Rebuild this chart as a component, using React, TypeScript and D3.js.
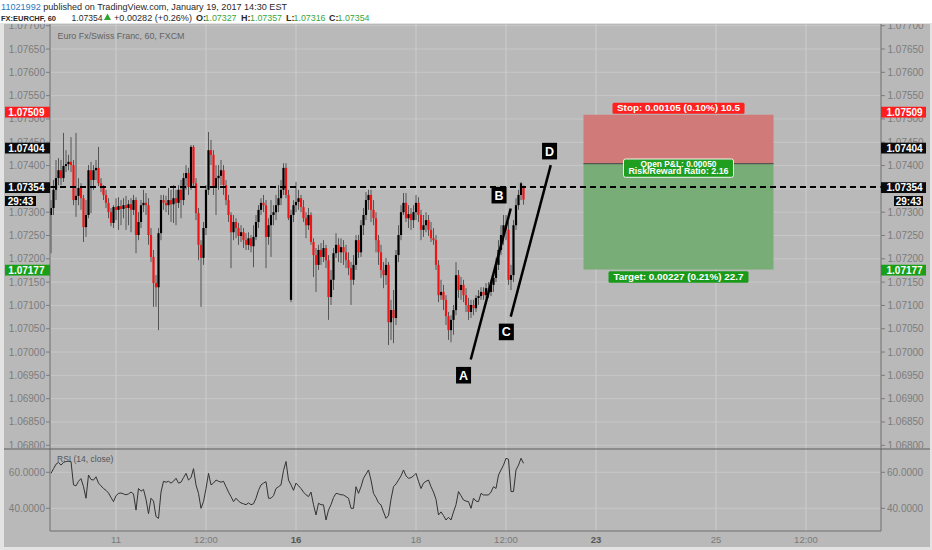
import * as d3 from "d3";

// hourly EUR/CHF bars (bar index 0 = first visible bar)
const opens = [
  1.07294, 1.07309, 1.07348, 1.07373, 1.0739, 1.07373, 1.07399, 1.07403, 1.07408, 1.07401,
  1.07326, 1.07335, 1.07352, 1.0733, 1.07268, 1.07294, 1.0739, 1.07369, 1.0739, 1.07395,
  1.07362, 1.07352, 1.07337, 1.0732, 1.073, 1.07277, 1.07311, 1.07305, 1.07313, 1.07307,
  1.07315, 1.07309, 1.07317, 1.07305, 1.07326, 1.07251, 1.07279, 1.07315, 1.0732, 1.07315,
  1.07251, 1.07204, 1.07148, 1.07139, 1.07255, 1.07326, 1.0732, 1.07315, 1.07326, 1.07317,
  1.0733, 1.0732, 1.07348, 1.07326, 1.07373, 1.07384, 1.07354, 1.0744, 1.07362, 1.07298,
  1.0723, 1.07202, 1.07266, 1.07348, 1.07433, 1.07423, 1.07352, 1.07373, 1.07378, 1.0739,
  1.07358, 1.07326, 1.07294, 1.07257, 1.07279, 1.07266, 1.07249, 1.07257, 1.0724, 1.0723,
  1.07244, 1.07227, 1.07247, 1.07279, 1.07305, 1.0732, 1.07315, 1.07247, 1.07272, 1.07294,
  1.073, 1.07315, 1.0733, 1.07348, 1.07395, 1.07337, 1.07112, 1.07294, 1.07315, 1.07322,
  1.0733, 1.07311, 1.07287, 1.07272, 1.07294, 1.07236, 1.07208, 1.07187, 1.07219, 1.07204,
  1.07223, 1.07197, 1.07118, 1.07155, 1.07212, 1.0723, 1.07214, 1.07225, 1.07214, 1.07197,
  1.0718, 1.07155, 1.07187, 1.0724, 1.07214, 1.07272, 1.07294, 1.07326, 1.07337, 1.07305,
  1.07287, 1.0724, 1.07214, 1.07176, 1.07165, 1.07187, 1.07064, 1.0709, 1.07073, 1.07208,
  1.07251, 1.073, 1.0732, 1.07287, 1.07296, 1.07283, 1.073, 1.0732, 1.07294, 1.07262,
  1.07272, 1.07283, 1.07262, 1.07244, 1.0724, 1.07187, 1.07122, 1.07129, 1.07112, 1.07077,
  1.07047, 1.07069, 1.0709, 1.07165, 1.07133, 1.07144, 1.07122, 1.07101, 1.07086, 1.07101,
  1.07094, 1.07116, 1.0712, 1.07129, 1.07122, 1.07137, 1.07129, 1.07144, 1.07159, 1.07187,
  1.07219, 1.07251, 1.07272, 1.07262, 1.07155, 1.07165, 1.07272, 1.07315, 1.07337, 1.07327,
];
const highs = [
  1.07326, 1.07369, 1.07412, 1.07416, 1.07412, 1.0747, 1.07433, 1.07423, 1.07461, 1.07412,
  1.0747, 1.07373, 1.07362, 1.07337, 1.07326, 1.07401, 1.07408, 1.07401, 1.07412, 1.0744,
  1.07373, 1.07358, 1.07348, 1.0733, 1.07309, 1.07315, 1.0733, 1.07332, 1.07326, 1.0733,
  1.07335, 1.07326, 1.0733, 1.07337, 1.07332, 1.073, 1.07326, 1.07348, 1.07341, 1.0733,
  1.07266, 1.07219, 1.07165, 1.07266, 1.07337, 1.07337, 1.07335, 1.07352, 1.07348, 1.07358,
  1.07348, 1.07358, 1.07369, 1.07384, 1.07401, 1.07395, 1.07444, 1.07444, 1.07373, 1.07309,
  1.0724, 1.07279, 1.07358, 1.07472, 1.07455, 1.07433, 1.07401, 1.07401, 1.07412, 1.07401,
  1.07369, 1.07337, 1.073, 1.07294, 1.07287, 1.07277, 1.07272, 1.07266, 1.07255, 1.07257,
  1.07251, 1.07272, 1.07294, 1.07315, 1.0733, 1.07337, 1.07326, 1.07287, 1.07326, 1.07315,
  1.07337, 1.07358, 1.07369, 1.07405, 1.07405, 1.07348, 1.07305, 1.07326, 1.07365, 1.07348,
  1.07337, 1.07326, 1.073, 1.07309, 1.073, 1.07244, 1.07223, 1.0723, 1.07234, 1.0724,
  1.0723, 1.07208, 1.07176, 1.07223, 1.07255, 1.07244, 1.07244, 1.0724, 1.0723, 1.07214,
  1.07193, 1.07208, 1.07251, 1.07251, 1.07283, 1.07309, 1.07343, 1.07348, 1.07348, 1.07326,
  1.073, 1.07251, 1.0723, 1.07193, 1.07202, 1.07193, 1.07112, 1.07133, 1.07219, 1.07272,
  1.07315, 1.07341, 1.07341, 1.07315, 1.07309, 1.07315, 1.07337, 1.07332, 1.07305, 1.07294,
  1.073, 1.07294, 1.07279, 1.07266, 1.07251, 1.07197, 1.07155, 1.07144, 1.07122, 1.07086,
  1.07079, 1.07101, 1.07193, 1.07176, 1.07161, 1.07155, 1.07137, 1.07116, 1.07112, 1.07112,
  1.07122, 1.07133, 1.07139, 1.07139, 1.07148, 1.0715, 1.07155, 1.07176, 1.07202, 1.0724,
  1.07272, 1.07294, 1.07294, 1.07279, 1.07187, 1.07283, 1.0733, 1.07348, 1.07365, 1.07357,
];
const lows = [
  1.07212, 1.07294, 1.07326, 1.07358, 1.07358, 1.07365, 1.07386, 1.0739, 1.07386, 1.07315,
  1.0729, 1.07315, 1.07305, 1.07236, 1.07247, 1.07287, 1.07298, 1.07348, 1.07369, 1.07356,
  1.07343, 1.07326, 1.07309, 1.07287, 1.0727, 1.07266, 1.07283, 1.07262, 1.07272, 1.07287,
  1.07262, 1.07272, 1.07257, 1.07294, 1.07212, 1.0724, 1.07266, 1.073, 1.07294, 1.0723,
  1.07193, 1.07097, 1.07097, 1.07047, 1.0724, 1.07305, 1.073, 1.07294, 1.07279, 1.07277,
  1.07272, 1.07309, 1.07287, 1.07315, 1.07348, 1.07337, 1.07348, 1.07352, 1.07283, 1.07197,
  1.07097, 1.07187, 1.07251, 1.07337, 1.07401, 1.07337, 1.07294, 1.07348, 1.07358, 1.07337,
  1.07315, 1.07279, 1.0718, 1.0724, 1.07244, 1.0723, 1.07236, 1.07223, 1.07219, 1.07219,
  1.07214, 1.07182, 1.0724, 1.07266, 1.07294, 1.073, 1.0718, 1.0723, 1.07204, 1.07272,
  1.07283, 1.073, 1.07315, 1.07337, 1.0733, 1.07283, 1.07107, 1.07279, 1.073, 1.07305,
  1.073, 1.07279, 1.07244, 1.07262, 1.0723, 1.07161, 1.07129, 1.07176, 1.07187, 1.07193,
  1.0718, 1.07069, 1.07101, 1.07133, 1.07202, 1.07193, 1.07191, 1.07187, 1.0718, 1.07165,
  1.07101, 1.07144, 1.07176, 1.07202, 1.07204, 1.07251, 1.07283, 1.07305, 1.07279, 1.07272,
  1.07214, 1.07187, 1.07159, 1.07137, 1.07144, 1.07015, 1.07026, 1.07019, 1.07058, 1.07193,
  1.0724, 1.07294, 1.07279, 1.07266, 1.07262, 1.07266, 1.07283, 1.07279, 1.0724, 1.07247,
  1.07257, 1.07249, 1.07236, 1.0723, 1.07176, 1.07107, 1.07112, 1.0709, 1.07058, 1.07026,
  1.07021, 1.07037, 1.07079, 1.07116, 1.07112, 1.07107, 1.07086, 1.07069, 1.07073, 1.07079,
  1.07086, 1.07101, 1.07112, 1.07112, 1.07116, 1.07116, 1.0712, 1.07129, 1.0715, 1.07176,
  1.07208, 1.0723, 1.0724, 1.07144, 1.07133, 1.0715, 1.07262, 1.07305, 1.07326, 1.07316,
];
const closes = [
  1.07309, 1.07348, 1.07373, 1.0739, 1.07373, 1.07399, 1.07403, 1.07408, 1.07401, 1.07326,
  1.07335, 1.07352, 1.0733, 1.07268, 1.07294, 1.0739, 1.07369, 1.0739, 1.07395, 1.07362,
  1.07352, 1.07337, 1.0732, 1.073, 1.07277, 1.07311, 1.07305, 1.07313, 1.07307, 1.07315,
  1.07309, 1.07317, 1.07305, 1.07326, 1.07251, 1.07279, 1.07315, 1.0732, 1.07315, 1.07251,
  1.07204, 1.07148, 1.07139, 1.07255, 1.07326, 1.0732, 1.07315, 1.07326, 1.07317, 1.0733,
  1.0732, 1.07348, 1.07326, 1.07373, 1.07384, 1.07354, 1.0744, 1.07362, 1.07298, 1.0723,
  1.07202, 1.07266, 1.07348, 1.07433, 1.07423, 1.07352, 1.07373, 1.07378, 1.0739, 1.07358,
  1.07326, 1.07294, 1.07257, 1.07279, 1.07266, 1.07249, 1.07257, 1.0724, 1.0723, 1.07244,
  1.07227, 1.07247, 1.07279, 1.07305, 1.0732, 1.07315, 1.07247, 1.07272, 1.07294, 1.073,
  1.07315, 1.0733, 1.07348, 1.07395, 1.07337, 1.07287, 1.07294, 1.07315, 1.07322, 1.0733,
  1.07311, 1.07287, 1.07272, 1.07294, 1.07236, 1.07208, 1.07187, 1.07219, 1.07204, 1.07223,
  1.07197, 1.07118, 1.07155, 1.07212, 1.0723, 1.07214, 1.07225, 1.07214, 1.07197, 1.0718,
  1.07155, 1.07187, 1.0724, 1.07214, 1.07272, 1.07294, 1.07326, 1.07337, 1.07305, 1.07287,
  1.0724, 1.07214, 1.07176, 1.07165, 1.07187, 1.07064, 1.0709, 1.07073, 1.07208, 1.07251,
  1.073, 1.0732, 1.07287, 1.07296, 1.07283, 1.073, 1.0732, 1.07294, 1.07262, 1.07272,
  1.07283, 1.07262, 1.07244, 1.0724, 1.07187, 1.07122, 1.07129, 1.07112, 1.07077, 1.07047,
  1.07069, 1.0709, 1.07165, 1.07133, 1.07144, 1.07122, 1.07101, 1.07086, 1.07101, 1.07094,
  1.07116, 1.0712, 1.07129, 1.07122, 1.07137, 1.07129, 1.07144, 1.07159, 1.07187, 1.07219,
  1.07251, 1.07272, 1.07262, 1.07155, 1.07165, 1.07272, 1.07315, 1.07337, 1.07362, 1.07354,
];
const rsiValues = [
  59.4, 62, 64.5, 65.5, 64, 65.5, 66, 66, 66, 53,
  52.5, 55, 56.5, 52, 45.6, 58.5, 56, 55.7, 57.5, 54,
  52.5, 51, 50, 48.5, 46, 43.7, 47, 48.3, 48.5, 48,
  47.5, 48, 49, 48, 39, 51, 49.5, 50.5, 45, 37,
  45.6, 44, 35.4, 34.4, 49, 55, 54.5, 55, 54, 55,
  56.7, 54, 54.5, 57, 59.4, 55.7, 57, 62, 53, 48.3,
  40, 43.7, 51, 59.4, 53, 54, 55.7, 55, 54.5, 55,
  52, 49, 46.5, 43.7, 45.6, 44, 43, 42.5, 42, 43,
  42, 42.5, 45.6, 50, 53, 54, 54.8, 45.6, 45.6, 47,
  51, 52, 53, 61, 66, 55.7, 53, 50, 54, 52.5,
  51, 49, 47.5, 46.5, 49, 42, 36.3, 42.8, 42, 41.9,
  33.5, 39, 42, 46, 48.3, 48, 47.5, 47.4, 46.5, 45.6,
  40, 40, 52, 48.3, 52, 56.7, 59, 61.3, 55.7, 48.3,
  46, 43, 41.9, 38, 34.4, 36, 45, 52, 53.5, 55.7,
  58, 61.3, 58, 56.7, 57, 58, 59.4, 55, 51, 54,
  55, 55.7, 52, 49, 45, 36.3, 38, 36, 33.5, 35,
  33.5, 38, 42, 49.3, 47, 44.6, 44, 43.7, 40, 45.6,
  44, 43.7, 48.3, 47.4, 47.4, 47.4, 49, 52, 51, 58.5,
  61.3, 64, 67.8, 67.2, 49.3, 49.3, 61.3, 64, 67.8, 65,
];

const priceTickLabels = [
  "1.07700", "1.07650", "1.07600", "1.07550", "1.07500", "1.07450", "1.07400",
  "1.07350", "1.07300", "1.07250", "1.07200", "1.07150", "1.07100", "1.07050",
  "1.07000", "1.06950", "1.06900", "1.06850", "1.06800",
];
const rsiTickValues = [60, 40];
const rsiTickLabels = ["60.0000", "40.0000"];
const timeTickBars = [26, 62, 98, 146, 182, 218, 266, 302];
const timeTickLabels = ["11", "12:00", "16", "18", "12:00", "23", "25", "12:00"];
const weekStartLabels = ["16", "23"];

// short position tool
const positionBars = [213, 289];
const stopPrice = 1.07509;
const entryPrice = 1.07404;
const targetPrice = 1.07177;

// ABCD drawing (bar index, price)
const patternNames = ["A", "B", "C", "D"];
const patternBars = [167.9, 183.9, 183.9, 199.9];
const patternPrices = [1.06984, 1.07308, 1.07076, 1.07401];

const markerPrices = [1.07509, 1.07404, 1.07354, 1.07177];
const markerTexts = ["1.07509", "1.07404", "1.07354", "1.07177"];
const lastPrice = 1.07354;

const FONT = "'Liberation Sans', Arial, sans-serif";
const PL = 50, PR = 881, PT = 24, PB = 449, RB = 531;

export default function App() {
  const x = d3.scaleLinear().domain([0, 100]).range([51, 301]);
  const y = d3.scaleLinear().domain([1.068, 1.077]).range([445.3, 25.7]);
  const yR = d3.scaleLinear().domain([40, 60]).range([508.3, 472.3]);

  const rsiLine = d3
    .line<number>()
    .x((_, i) => x(i))
    .y((d) => yR(d));

  const markerFill = ["#ff1c1c", "#0b0b0b", "#0b0b0b", "#17a017"];
  const markerShift = [-2.6, -15.6, 0.6, 0.6];
  const labelShift = [
    [-7.2, 15.7],
    [-11.7, -13.3],
    [-4.4, 15.3],
    [-1.2, -14],
  ];

  const pX0 = x(positionBars[0]);
  const pX1 = x(positionBars[1]);
  const pMid = (pX0 + pX1) / 2;

  return (
    <>
      <style>{"body{margin:0}"}</style>
      <svg width={932} height={550} style={{ display: "block" }} fontFamily={FONT}>
        <defs>
          <clipPath id="mainClip">
            <rect x={PL} y={PT} width={PR - PL} height={PB - PT} />
          </clipPath>
          <clipPath id="rsiClip">
            <rect x={PL} y={PB} width={PR - PL} height={RB - PB} />
          </clipPath>
          <clipPath id="axisClip">
            <rect x={0} y={PT} width={932} height={PB - PT - 1} />
          </clipPath>
        </defs>

        <rect width={932} height={550} fill="#ffffff" />
        <rect x={0} y={23} width={932} height={527} fill="#e3e3e3" />
        <rect x={4} y={PT} width={926} height={523} fill="#b9b9b9" />

        {/* grid */}
        {priceTickLabels.map((t) => (
          <line key={t} x1={PL} x2={PR} y1={y(+t)} y2={y(+t)} stroke="#c7c7c7" strokeWidth={1} />
        ))}
        {rsiTickValues.map((v) => (
          <line key={v} x1={PL} x2={PR} y1={yR(v)} y2={yR(v)} stroke="#c7c7c7" strokeWidth={1} />
        ))}
        {timeTickBars.map((b) => (
          <line key={b} x1={x(b)} x2={x(b)} y1={PT} y2={RB} stroke="#cdcdcd" strokeWidth={1} />
        ))}

        {/* price axis labels */}
        <g clipPath="url(#axisClip)" fontSize={10} fill="#7c7c7c">
          {priceTickLabels.map((t) => (
            <g key={t}>
              <text x={45} y={y(+t) + 3.5} textAnchor="end">{t}</text>
              <line x1={46} x2={PL} y1={y(+t)} y2={y(+t)} stroke="#7c7c7c" />
              <text x={887.5} y={y(+t) + 3.5}>{t}</text>
              <line x1={PR} x2={PR + 4} y1={y(+t)} y2={y(+t)} stroke="#7c7c7c" />
            </g>
          ))}
        </g>
        <g fontSize={10} fill="#7c7c7c">
          {rsiTickValues.map((v, k) => (
            <g key={v}>
              <text x={45} y={yR(v) + 3.5} textAnchor="end">{rsiTickLabels[k]}</text>
              <line x1={46} x2={PL} y1={yR(v)} y2={yR(v)} stroke="#7c7c7c" />
              <text x={887} y={yR(v) + 3.5}>{rsiTickLabels[k]}</text>
              <line x1={PR} x2={PR + 4} y1={yR(v)} y2={yR(v)} stroke="#7c7c7c" />
            </g>
          ))}
        </g>

        <text x={57.5} y={39} fontSize={9.5} fill="#636363" textLength={127} lengthAdjust="spacingAndGlyphs">
          Euro Fx/Swiss Franc, 60, FXCM
        </text>

        {/* main pane */}
        <g clipPath="url(#mainClip)">
          {/* position tool */}
          <rect x={pX0} y={y(stopPrice)} width={pX1 - pX0} height={y(entryPrice) - y(stopPrice)} fill="#d07a79" />
          <rect x={pX0} y={y(entryPrice)} width={pX1 - pX0} height={y(targetPrice) - y(entryPrice)} fill="#78ad77" />
          <line x1={pX0} x2={pX1} y1={y(entryPrice)} y2={y(entryPrice)} stroke="#444" strokeWidth={1} />

          {closes.map((c, i) => {
            const o = opens[i];
            const up = i === 0 ? c >= o : c >= closes[i - 1];
            const top = y(Math.max(o, c));
            const bot = y(Math.min(o, c));
            const cx = x(i);
            return (
              <g key={i}>
                <line x1={cx} x2={cx} y1={y(highs[i])} y2={y(lows[i])} stroke="#555" strokeWidth={1} />
                <rect x={cx - 1.1} y={top} width={2.2} height={Math.max(1, bot - top)} fill={up ? "#000" : "#f01414"} />
              </g>
            );
          })}

          <line x1={PL} x2={PR} y1={y(lastPrice)} y2={y(lastPrice)} stroke="#000" strokeWidth={2} strokeDasharray="6 4" />

          <line x1={x(patternBars[0])} y1={y(patternPrices[0])} x2={x(patternBars[1])} y2={y(patternPrices[1])} stroke="#000" strokeWidth={2.5} />
          <line x1={x(patternBars[2])} y1={y(patternPrices[2])} x2={x(patternBars[3])} y2={y(patternPrices[3])} stroke="#000" strokeWidth={2.5} />
          {patternNames.map((n, k) => {
            const cx = x(patternBars[k]) + labelShift[k][0];
            const cy = y(patternPrices[k]) + labelShift[k][1];
            return (
              <g key={n}>
                <rect x={cx - 7.5} y={cy - 8.3} width={15} height={16.6} fill="#000" />
                <text x={cx} y={cy + 4.5} textAnchor="middle" fontSize={12.5} fontWeight="bold" fill="#fff">{n}</text>
              </g>
            );
          })}

          {/* position labels */}
          <rect x={pMid - 66} y={y(stopPrice) - 12} width={132} height={11} rx={1.5} fill="#ff2020" />
          <text x={pMid} y={y(stopPrice) - 3.3} textAnchor="middle" fontSize={9.2} fontWeight="bold" fill="#fff" textLength={123} lengthAdjust="spacingAndGlyphs">
            Stop: 0.00105 (0.10%) 10.5
          </text>
          <rect x={pMid - 55} y={y(entryPrice) - 4.7} width={110} height={18.3} rx={2} fill="#1f9e1f" stroke="#f2f2f2" strokeWidth={1} />
          <text x={pMid} y={y(entryPrice) + 3} textAnchor="middle" fontSize={8.8} fontWeight="bold" fill="#fff" textLength={76} lengthAdjust="spacingAndGlyphs">
            Open P&amp;L: 0.00050
          </text>
          <text x={pMid} y={y(entryPrice) + 10.5} textAnchor="middle" fontSize={8.8} fontWeight="bold" fill="#fff" textLength={100} lengthAdjust="spacingAndGlyphs">
            Risk/Reward Ratio: 2.16
          </text>
          <rect x={pMid - 70} y={y(targetPrice) + 1.8} width={140} height={11.4} rx={1.5} fill="#1a9a1a" />
          <text x={pMid} y={y(targetPrice) + 10.8} textAnchor="middle" fontSize={9.2} fontWeight="bold" fill="#fff" textLength={130} lengthAdjust="spacingAndGlyphs">
            Target: 0.00227 (0.21%) 22.7
          </text>
        </g>

        {/* RSI pane */}
        <g clipPath="url(#rsiClip)">
          <path d={rsiLine(rsiValues) ?? ""} fill="none" stroke="#333" strokeWidth={1} />
        </g>
        <text x={57} y={462} fontSize={8.5} fill="#555">RSI (14, close)</text>

        {/* frame lines */}
        <line x1={PL} x2={PL} y1={PT} y2={RB} stroke="#6f6f6f" />
        <line x1={PR} x2={PR} y1={PT} y2={RB} stroke="#6f6f6f" />
        <line x1={4} x2={930} y1={PB} y2={PB} stroke="#5e5e5e" strokeWidth={1.2} />
        <line x1={PL} x2={PR} y1={RB} y2={RB} stroke="#6f6f6f" />

        {/* time axis */}
        {timeTickBars.map((b, k) => {
          const bold = weekStartLabels.includes(timeTickLabels[k]);
          return (
            <text key={b} x={x(b)} y={542.5} textAnchor="middle" fontSize={9.5} fill={bold ? "#555" : "#7a7a7a"} fontWeight={bold ? "bold" : "normal"}>
              {timeTickLabels[k]}
            </text>
          );
        })}

        {/* price markers on both axes */}
        {markerPrices.map((p, k) => {
          const cy = y(p) + markerShift[k];
          return (
            <g key={k} fontSize={10} fontWeight="bold" fill="#fff">
              <rect x={5} y={cy - 5.4} width={45} height={10.8} fill={markerFill[k]} />
              <text x={44.5} y={cy + 3.6} textAnchor="end">{markerTexts[k]}</text>
              <rect x={PR} y={cy - 5.4} width={45} height={10.8} fill={markerFill[k]} />
              <text x={886.5} y={cy + 3.6}>{markerTexts[k]}</text>
            </g>
          );
        })}
        <g fontSize={10} fontWeight="bold" fill="#fff">
          <rect x={5} y={196} width={31} height={10} fill="#0b0b0b" />
          <text x={20.5} y={204.5} textAnchor="middle">29:43</text>
          <rect x={894} y={196} width={29} height={10} fill="#0b0b0b" />
          <text x={908.5} y={204.5} textAnchor="middle">29:43</text>
        </g>

        {/* header */}
        <text x={1} y={10} fontSize={9.5} fill="#2a2a2a" textLength={286} lengthAdjust="spacingAndGlyphs">
          <tspan fill="#2b78bd">11021992</tspan>
          <tspan> published on TradingView.com, January 19, 2017 14:30 EST</tspan>
        </text>
        <g fontSize={9} fill="#2a2a2a">
          <text x={1} y={20.5} fontWeight="bold" fontSize={8} textLength={55} lengthAdjust="spacingAndGlyphs">FX:EURCHF, 60</text>
          <text x={71.5} y={20.5} textLength={31} lengthAdjust="spacingAndGlyphs">1.07354</text>
          <path d="M104,20 L107.5,13.5 L111,20 Z" fill="#2fa52f" />
          <text x={114} y={20.5} textLength={78} lengthAdjust="spacingAndGlyphs">+0.00282 (+0.26%)</text>
          <text x={196} y={20.5} fontWeight="bold">O:</text>
          <text x={204.5} y={20.5} fill="#3aa63a" textLength={32} lengthAdjust="spacingAndGlyphs">1.07327</text>
          <text x={241} y={20.5} fontWeight="bold">H:</text>
          <text x={250} y={20.5} fill="#3aa63a" textLength={32} lengthAdjust="spacingAndGlyphs">1.07357</text>
          <text x={286} y={20.5} fontWeight="bold">L:</text>
          <text x={293.5} y={20.5} fill="#3aa63a" textLength={32} lengthAdjust="spacingAndGlyphs">1.07316</text>
          <text x={329} y={20.5} fontWeight="bold">C:</text>
          <text x={337.5} y={20.5} fill="#3aa63a" textLength={32} lengthAdjust="spacingAndGlyphs">1.07354</text>
        </g>
      </svg>
    </>
  );
}
